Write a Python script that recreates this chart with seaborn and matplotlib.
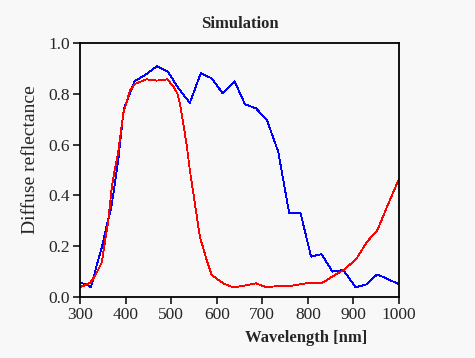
import numpy as np
import pandas as pd
import matplotlib
matplotlib.use("Agg")
import matplotlib.pyplot as plt
import seaborn as sns

# Blue curve
blue_nm = [300, 316, 324, 336, 348, 358, 369, 384, 396, 420, 444, 469, 492, 519,
           541, 565, 589, 613, 639, 662, 686, 710, 735, 759, 784, 807, 830, 854,
           878, 905, 929, 952, 976, 1000]
blue_r = [0.055, 0.05, 0.038, 0.12, 0.196, 0.277, 0.355, 0.54, 0.74, 0.85, 0.875,
          0.909, 0.888, 0.815, 0.764, 0.881, 0.861, 0.802, 0.850, 0.759, 0.743,
          0.697, 0.572, 0.33, 0.33, 0.159, 0.169, 0.10, 0.106, 0.038, 0.05,
          0.089, 0.07, 0.05]

# Red curve
red_nm = [300, 315, 322, 333, 348, 353, 362, 369, 375, 384, 395, 410, 421, 446,
          468, 492, 505, 514, 519, 523, 534, 541, 552, 563, 578, 589, 614, 636,
          662, 686, 709, 728, 761, 783, 797, 832, 856, 881, 907, 930, 952, 980,
          1000]
red_r = [0.038, 0.05, 0.056, 0.083, 0.137, 0.198, 0.30, 0.42, 0.49, 0.572, 0.723,
         0.815, 0.839, 0.857, 0.852, 0.857, 0.828, 0.80, 0.763, 0.723, 0.60, 0.50,
         0.369, 0.237, 0.146, 0.087, 0.054, 0.038, 0.045, 0.054, 0.038, 0.042,
         0.043, 0.05, 0.054, 0.056, 0.083, 0.109, 0.152, 0.218, 0.261, 0.382,
         0.465]

x_ticks = [300, 400, 500, 600, 700, 800, 900, 1000]
y_ticks = [0.0, 0.2, 0.4, 0.6, 0.8, 1.0]

blue_df = pd.DataFrame({"nm": blue_nm, "r": blue_r})
red_df = pd.DataFrame({"nm": red_nm, "r": red_r})

sns.set_style("ticks")
plt.rcParams['font.family'] = ['Liberation Serif', 'DejaVu Serif']
plt.rcParams['font.size'] = 12.5

bg = "#f8f8f8"
fig = plt.figure(figsize=(4.75, 3.58), dpi=100, facecolor=bg)
ax = fig.add_axes([80 / 475, 1 - 297 / 358, 319 / 475, 254 / 358])
ax.set_facecolor(bg)

sns.lineplot(data=blue_df, x="nm", y="r", color="blue", lw=0.6, ax=ax,
             antialiased=False, sort=False)
sns.lineplot(data=red_df, x="nm", y="r", color="red", lw=0.6, ax=ax,
             antialiased=False, sort=False)

ax.set_xlim(300, 1000)
ax.set_ylim(0, 1)
ax.set_xticks(x_ticks)
ax.set_yticks(y_ticks)
ax.set_yticklabels([f"{v:.1f}" for v in y_ticks])
ax.tick_params(direction="out", length=5, width=1.1, color="black",
               labelsize=12.5, pad=2)
for s in ax.spines.values():
    s.set_color("black")
    s.set_linewidth(1.3)

ax.set_title("Simulation", fontsize=12, fontweight="bold", pad=11)
ax.set_xlabel("Wavelength [nm]", fontsize=12, fontweight="bold")
ax.xaxis.set_label_coords(0.71, -0.13)
ax.set_ylabel("Diffuse reflectance", fontsize=14)
ax.yaxis.set_label_coords(-0.128, 0.54)

fig.savefig("out.png", dpi=100, facecolor=bg)
